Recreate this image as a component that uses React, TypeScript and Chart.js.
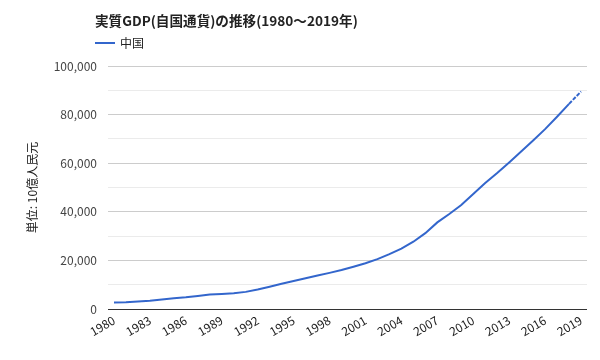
import React, { useEffect, useRef } from "react";
import { Chart, registerables } from "chart.js";

Chart.register(...registerables);

const years: string[] = [
  "1980","1981","1982","1983","1984","1985","1986","1987","1988","1989",
  "1990","1991","1992","1993","1994","1995","1996","1997","1998","1999",
  "2000","2001","2002","2003","2004","2005","2006","2007","2008","2009",
  "2010","2011","2012","2013","2014","2015","2016","2017","2018","2019",
];

const chinaGdp: number[] = [
  2654, 2790, 3041, 3369, 3881, 4401, 4793, 5353, 5953, 6203,
  6445, 7044, 8044, 9162, 10353, 11492, 12630, 13792, 14868, 16013,
  17374, 18816, 20528, 22581, 24862, 27696, 31213, 35645, 39103, 42778,
  47312, 51854, 55950, 60314, 64777, 69311, 74024, 79132, 84434, 89500,
];

const titleText = "実質GDP(自国通貨)の推移(1980〜2019年)";
const seriesName = "中国";
const yAxisTitle = "単位: 10億人民元";

const FONT = '"Noto Sans CJK JP", "Noto Sans", sans-serif';
const BLUE = "#3366cc";

export default function App() {
  const ref = useRef<HTMLCanvasElement | null>(null);

  useEffect(() => {
    document.body.style.margin = "0";
    const canvas = ref.current;
    if (!canvas) return;

    const headerPlugin = {
      id: "header",
      afterDraw(chart: any) {
        const ctx = chart.ctx;
        ctx.save();
        ctx.fillStyle = "#222222";
        ctx.font = `bold 13.6px ${FONT}`;
        ctx.textAlign = "left";
        ctx.textBaseline = "middle";
        ctx.fillText(titleText, 95, 21);
        ctx.strokeStyle = BLUE;
        ctx.lineWidth = 2;
        ctx.beginPath();
        ctx.moveTo(95, 43);
        ctx.lineTo(115, 43);
        ctx.stroke();
        ctx.fillStyle = "#222222";
        ctx.font = `12px ${FONT}`;
        ctx.fillText(seriesName, 120, 43);
        ctx.restore();
      },
    };

    const chart = new Chart(canvas, {
      type: "line",
      data: {
        labels: years,
        datasets: [
          {
            label: seriesName,
            data: chinaGdp,
            borderColor: BLUE,
            backgroundColor: BLUE,
            borderWidth: 2,
            pointRadius: 0,
            tension: 0,
            segment: {
              borderDash: (ctx: any) => (ctx.p1DataIndex === chinaGdp.length - 1 ? [4, 1.5] : undefined),
            },
          },
        ],
      },
      options: {
        responsive: false,
        animation: false,
        layout: { padding: { top: 66, left: 0, right: 13, bottom: 0 } },
        plugins: {
          legend: { display: false },
          title: { display: false },
          tooltip: { enabled: false },
        },
        scales: {
          x: {
            offset: true,
            grid: { display: false, drawTicks: false },
            border: { display: false },
            afterFit: (s: any) => { s.height = 51; },
            ticks: {
              autoSkip: false,
              minRotation: 30,
              maxRotation: 30,
              padding: 4,
              color: "#222222",
              font: { family: FONT, size: 12 },
              callback: (_v: any, i: number) => (i % 3 === 0 ? years[i] : ""),
            },
          },
          y: {
            min: 0,
            max: 100000,
            afterFit: (s: any) => { s.width = 108; },
            border: { display: false },
            grid: {
              drawTicks: false,
              color: (ctx: any) => {
                const v = ctx.tick ? ctx.tick.value : 0;
                if (v === 0) return "#333333";
                if (v % 20000 === 0) return "#cccccc";
                return "#ebebeb";
              },
              lineWidth: 1,
            },
            ticks: {
              stepSize: 10000,
              padding: 11,
              color: "#444444",
              font: { family: FONT, size: 12 },
              callback: (v: any) => (Number(v) % 20000 === 0 ? Number(v).toLocaleString("en-US") : ""),
            },
            title: {
              display: true,
              text: yAxisTitle,
              color: "#222222",
              font: { family: FONT, size: 12 },
              padding: { top: 25, bottom: 0 },
            },
          },
        },
      },
      plugins: [headerPlugin],
    });

    return () => chart.destroy();
  }, []);

  return (
    <div style={{ width: 600, height: 360 }}>
      <canvas ref={ref} width={600} height={360} />
    </div>
  );
}
